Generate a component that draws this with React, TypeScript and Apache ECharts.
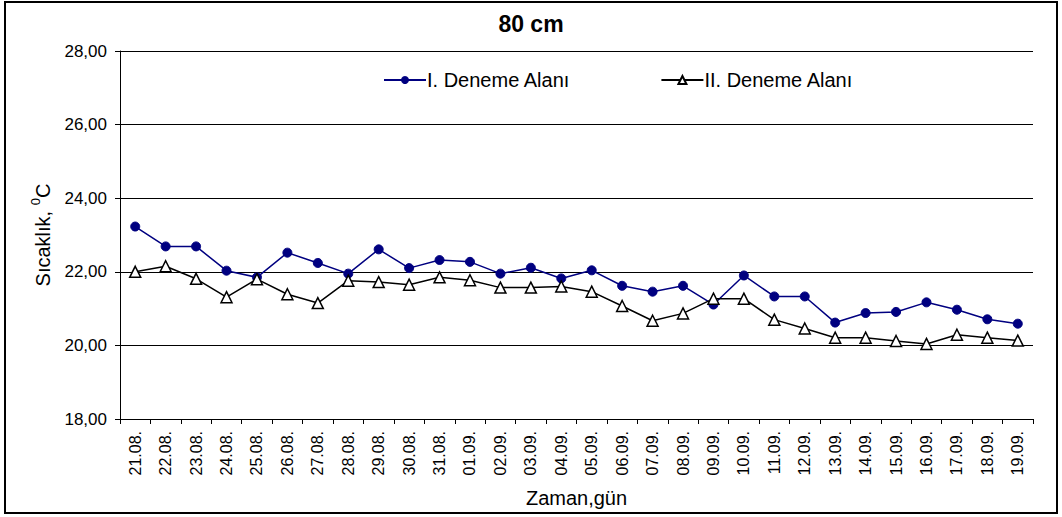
import React, { useEffect, useRef } from "react";
import * as echarts from "echarts";

// Days of the measurement period (21 Aug – 19 Sep)
const days = [
  "21.08.", "22.08.", "23.08.", "24.08.", "25.08.", "26.08.", "27.08.", "28.08.",
  "29.08.", "30.08.", "31.08.", "01.09.", "02.09.", "03.09.", "04.09.", "05.09.",
  "06.09.", "07.09.", "08.09.", "09.09.", "10.09.", "11.09.", "12.09.", "13.09.",
  "14.09.", "15.09.", "16.09.", "17.09.", "18.09.", "19.09.",
];

// Soil temperature at 80 cm depth, °C
const area1 = [
  23.23, 22.69, 22.69, 22.03, 21.85, 22.52, 22.24, 21.95, 22.61, 22.1,
  22.32, 22.27, 21.95, 22.11, 21.82, 22.04, 21.62, 21.46, 21.62, 21.11,
  21.9, 21.33, 21.33, 20.62, 20.88, 20.91, 21.17, 20.97, 20.71, 20.59,
];
const area2 = [
  22.0, 22.15, 21.81, 21.31, 21.8, 21.39, 21.15, 21.76, 21.72, 21.65,
  21.85, 21.77, 21.57, 21.57, 21.6, 21.46, 21.07, 20.67, 20.87, 21.27,
  21.27, 20.7, 20.46, 20.21, 20.21, 20.12, 20.04, 20.29, 20.21, 20.13,
];

const seriesNames = ["I. Deneme Alanı", "II. Deneme Alanı"];
const yMin = 18;
const yMax = 28;
const yStep = 2;

const FONT = "'Liberation Sans', Arial, Helvetica, sans-serif";

export default function App() {
  const ref = useRef<HTMLDivElement>(null);

  useEffect(() => {
    document.body.style.margin = "0";
    if (!ref.current) return;
    const chart = echarts.init(ref.current, undefined, { renderer: "svg" });
    chart.setOption({
      animation: false,
      backgroundColor: "#ffffff",
      textStyle: { fontFamily: FONT, color: "#000" },
      title: {
        text: "80 cm",
        left: "center",
        top: 7,
        textStyle: { fontFamily: FONT, fontSize: 23, fontWeight: "bold", color: "#000" },
      },
      legend: {
        data: seriesNames,
        left: 378,
        top: 65,
        itemWidth: 42,
        itemHeight: 10,
        itemGap: 90,
        textStyle: { fontFamily: FONT, fontSize: 20, color: "#000", padding: [0, 0, 0, -4] },
      },
      graphic: [
        {
          type: "rect",
          shape: { x: 5, y: 2, width: 1052, height: 511 },
          style: { fill: "none", stroke: "#000", lineWidth: 2 },
          silent: true,
        },
      ],
      grid: { left: 120, right: 29, top: 51, bottom: 98, containLabel: false },
      xAxis: {
        type: "category",
        data: days,
        boundaryGap: true,
        name: "Zaman,gün",
        nameLocation: "middle",
        nameGap: 69,
        nameTextStyle: { fontFamily: FONT, fontSize: 20, color: "#000" },
        axisLine: { lineStyle: { color: "#000", width: 1 } },
        axisTick: { show: true, length: 5, lineStyle: { color: "#000" } },
        axisLabel: {
          rotate: 90,
          interval: 0,
          margin: 12,
          fontFamily: FONT,
          fontSize: 16,
          color: "#000",
        },
        splitLine: { show: false },
      },
      yAxis: {
        type: "value",
        min: yMin,
        max: yMax,
        interval: yStep,
        name: "{a|Sıcaklık, }{s|0}{a|C}",
        nameLocation: "middle",
        nameGap: 67,
        nameTextStyle: {
          rich: {
            a: { fontFamily: FONT, fontSize: 20, color: "#000", verticalAlign: "bottom", lineHeight: 24 },
            s: { fontFamily: FONT, fontSize: 13, color: "#000", verticalAlign: "top", lineHeight: 24 },
          },
        },
        axisLine: { show: true, lineStyle: { color: "#000", width: 1 } },
        axisTick: { show: true, length: 5, lineStyle: { color: "#000" } },
        axisLabel: {
          margin: 13,
          fontFamily: FONT,
          fontSize: 17,
          color: "#000",
          formatter: (v: number) => v.toFixed(2).replace(".", ","),
        },
        splitLine: { show: true, lineStyle: { color: "#000", width: 1.2 } },
      },
      series: [
        {
          name: seriesNames[0],
          type: "line",
          data: area1,
          symbol: "circle",
          symbolSize: 9,
          lineStyle: { color: "#000080", width: 1.5 },
          itemStyle: { color: "#000080", borderColor: "#000080" },
          z: 3,
        },
        {
          name: seriesNames[1],
          type: "line",
          data: area2,
          symbol: "triangle",
          symbolSize: 11,
          lineStyle: { color: "#000", width: 1.5 },
          itemStyle: { color: "#fff", borderColor: "#000", borderWidth: 1.5 },
          z: 4,
        },
      ],
    });
    return () => chart.dispose();
  }, []);

  return <div ref={ref} style={{ width: 1062, height: 517 }} />;
}
